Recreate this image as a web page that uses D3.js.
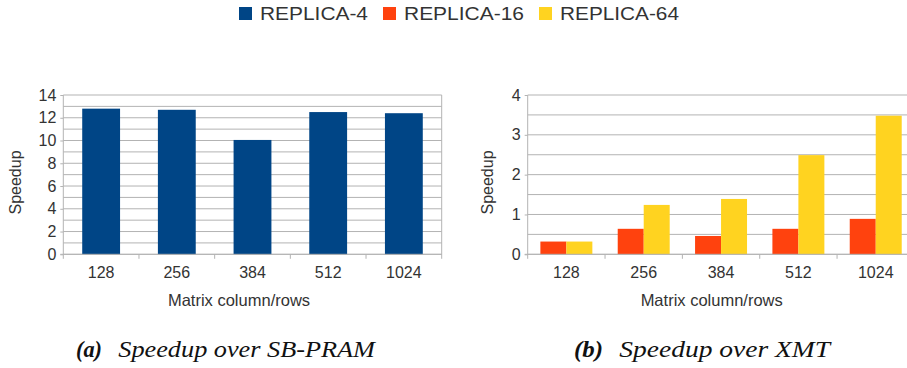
<!DOCTYPE html>
<html>
<head>
<meta charset="utf-8">
<script src="https://cdn.jsdelivr.net/npm/d3@7"></script>
<style>
  body { margin: 0; background: #fff; }
  svg { display: block; }
</style>
</head>
<body>
<svg id="chart" width="907" height="368"></svg>
<script>
// ---- data ----
const categories = ["128", "256", "384", "512", "1024"];
const seriesNames = ["REPLICA-4", "REPLICA-16", "REPLICA-64"];
const replica4SB = [12.8, 12.7, 10.05, 12.5, 12.4];
const replica16XMT = [0.32, 0.64, 0.46, 0.64, 0.89];
const replica64XMT = [0.32, 1.24, 1.39, 2.49, 3.48];
const leftTickLabels = [0, 2, 4, 6, 8, 10, 12, 14];
const rightTickLabels = [0, 1, 2, 3, 4];
const xTitle = "Matrix column/rows";
const yTitle = "Speedup";
const captions = [["(a)", "Speedup over SB-PRAM"], ["(b)", "Speedup over XMT"]];

const colors = { "REPLICA-4": "#004586", "REPLICA-16": "#ff420e", "REPLICA-64": "#ffd320" };
const gridColor = "#b3b3b3";
const textColor = "#333";
const sans = "Liberation Sans, Arial, sans-serif";
const serif = "Liberation Serif, Times New Roman, serif";

const svg = d3.select("#chart");

// ---- legend ----
const legendItems = [
  { name: seriesNames[0], sx: 239, tx: 260, tw: 108 },
  { name: seriesNames[1], sx: 383, tx: 404, tw: 120 },
  { name: seriesNames[2], sx: 539, tx: 560, tw: 119 }
];
const lg = svg.append("g");
legendItems.forEach(it => {
  lg.append("rect").attr("x", it.sx).attr("y", 7).attr("width", 13).attr("height", 13)
    .attr("fill", colors[it.name]);
  lg.append("text").attr("x", it.tx).attr("y", 19.5)
    .attr("font-family", sans).attr("font-size", 17.5).attr("fill", textColor)
    .attr("textLength", it.tw).attr("lengthAdjust", "spacingAndGlyphs")
    .text(it.name);
});

function drawPanel(cfg) {
  const g = svg.append("g");
  const y = d3.scaleLinear().domain([0, cfg.ymax]).range([cfg.bottom, cfg.top]);
  const x = d3.scaleBand().domain(categories).range([cfg.left, cfg.right])
    .paddingInner(cfg.padIn).paddingOuter(cfg.padIn / 2);

  // grid lines
  const grid = d3.range(0, cfg.ymax + 1e-9, cfg.gridStep);
  g.append("g").selectAll("line").data(grid).join("line")
    .attr("x1", cfg.left).attr("x2", cfg.right)
    .attr("y1", d => y(d)).attr("y2", d => y(d))
    .attr("stroke", gridColor).attr("stroke-width", 1);

  // y axis
  const ya = d3.axisLeft(y).tickValues(cfg.ticks).tickSize(3).tickPadding(4).tickFormat(d3.format("d"));
  const yg = g.append("g").attr("transform", `translate(${cfg.left},0)`).call(ya);
  yg.select(".domain").remove();
  yg.selectAll(".tick line").attr("stroke", gridColor);
  yg.selectAll("text").attr("font-family", sans).attr("font-size", 16).attr("fill", textColor);

  // left axis line extending below zero
  g.append("line").attr("x1", cfg.left).attr("x2", cfg.left)
    .attr("y1", cfg.top).attr("y2", cfg.bottom + 4.5).attr("stroke", gridColor);
  // right border
  g.append("line").attr("x1", cfg.right).attr("x2", cfg.right)
    .attr("y1", cfg.top).attr("y2", cfg.bottom + 4.5).attr("stroke", gridColor);
  // boundary ticks
  g.append("g").selectAll("line").data(d3.range(1, categories.length)).join("line")
    .attr("x1", i => cfg.left + i * x.step()).attr("x2", i => cfg.left + i * x.step())
    .attr("y1", cfg.bottom).attr("y2", cfg.bottom + 4.5).attr("stroke", gridColor);

  // bars
  const inner = d3.scaleBand().domain(cfg.series.map(s => s.name)).range([0, x.bandwidth()]);
  cfg.series.forEach(s => {
    g.append("g").selectAll("rect").data(categories).join("rect")
      .attr("x", (c) => x(c) + inner(s.name))
      .attr("width", inner.bandwidth())
      .attr("y", (c, i) => y(s.values[i]))
      .attr("height", (c, i) => cfg.bottom - y(s.values[i]))
      .attr("fill", colors[s.name]);
  });

  // x axis labels
  const xa = d3.axisBottom(x).tickSize(0).tickPadding(12.6);
  const xg = g.append("g").attr("transform", `translate(0,${cfg.bottom})`).call(xa);
  xg.select(".domain").remove();
  xg.selectAll("text").attr("font-family", sans).attr("font-size", 16).attr("fill", textColor);

  // zero axis line on top
  g.append("line").attr("x1", cfg.left - 3).attr("x2", cfg.right)
    .attr("y1", cfg.bottom).attr("y2", cfg.bottom).attr("stroke", gridColor);

  // titles
  g.append("text").attr("x", cfg.xTitleX).attr("y", 306)
    .attr("text-anchor", "middle").attr("font-family", sans).attr("font-size", 16.5)
    .attr("fill", textColor).text(xTitle);
  g.append("text").attr("transform", `translate(${cfg.yTitleX},182.5) rotate(-90)`)
    .attr("text-anchor", "middle").attr("dy", "0.35em").attr("font-family", sans).attr("font-size", 16)
    .attr("fill", textColor).text(yTitle);

  // caption
  const capG = g.append("g").attr("font-family", serif).attr("font-style", "italic")
    .attr("font-size", 24).attr("fill", "#111");
  capG.append("text").attr("x", cfg.capX).attr("y", 357).attr("font-weight", "bold")
    .attr("textLength", cfg.capX1End - cfg.capX).attr("lengthAdjust", "spacingAndGlyphs")
    .text(cfg.caption[0]);
  capG.append("text").attr("x", cfg.capX2).attr("y", 357)
    .attr("textLength", cfg.capEnd - cfg.capX2).attr("lengthAdjust", "spacingAndGlyphs")
    .text(cfg.caption[1]);
}

drawPanel({
  left: 63.3, right: 441.7, top: 95, bottom: 254.3, ymax: 14, gridStep: 1,
  ticks: leftTickLabels, padIn: 0.5,
  series: [{ name: seriesNames[0], values: replica4SB }],
  xTitleX: 239, yTitleX: 15,
  caption: captions[0], capX: 76, capX1End: 102, capX2: 118.3, capEnd: 375
});
drawPanel({
  left: 527.7, right: 914.4, top: 95, bottom: 254.3, ymax: 4, gridStep: 0.5,
  ticks: rightTickLabels, padIn: 0.328,
  series: [{ name: seriesNames[1], values: replica16XMT }, { name: seriesNames[2], values: replica64XMT }],
  xTitleX: 711.7, yTitleX: 487,
  caption: captions[1], capX: 574, capX1End: 603, capX2: 619.3, capEnd: 830
});
</script>
</body>
</html>
